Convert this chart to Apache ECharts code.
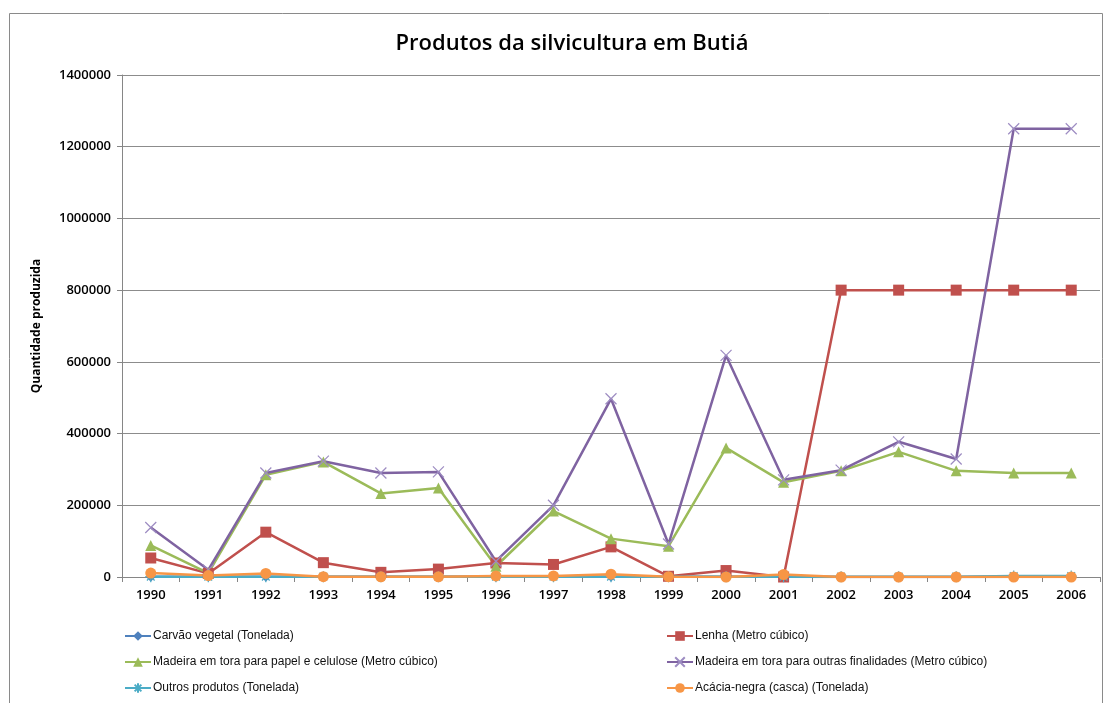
<!DOCTYPE html>
<html>
<head>
<meta charset="UTF-8">
<title>Produtos da silvicultura em Butiá</title>
<script src="https://cdn.jsdelivr.net/npm/echarts@6/dist/echarts.min.js"></script>
<style>
  html, body { margin: 0; padding: 0; background: #fff; }
  #main { width: 1113px; height: 703px; }
</style>
</head>
<body>
<div id="main"></div>
<script>
// anos
var anos = ['1990','1991','1992','1993','1994','1995','1996','1997','1998',
            '1999','2000','2001','2002','2003','2004','2005','2006'];

// valores
var carvao   = [500, 500, 500, 500, 500, 500, 1000, 1000, 500, 500, 500, 1000, 0, 0, 0, 1000, 1000];
var lenha    = [53000, 10000, 125000, 40000, 13000, 22000, 39000, 35000, 84000, 2000, 18000, 0,
                800000, 800000, 800000, 800000, 800000];
var papel    = [88000, 11000, 285000, 321000, 233000, 248000, 30000, 184000, 107000, 86000,
                360000, 264000, 296000, 349000, 296000, 290000, 290000];
var outras   = [138000, 20000, 290000, 323000, 290000, 293000, 44000, 200000, 497000, 92000,
                618000, 271000, 298000, 377000, 329000, 1250000, 1250000];
var outros   = [1000, 1000, 1000, 1000, 1000, 1000, 1000, 1000, 1000, 1000, 1000, 1000,
                1000, 1000, 1000, 2500, 2500];
var acacia   = [11000, 4000, 10000, 1000, 500, 500, 3000, 3000, 8000, 1000, 0, 7000,
                0, 0, 0, 0, 0];

var yTicks = [0, 200000, 400000, 600000, 800000, 1000000, 1200000, 1400000];

var nomes = ['Carvão vegetal (Tonelada)', 'Lenha (Metro cúbico)',
             'Madeira em tora para papel e celulose (Metro cúbico)',
             'Madeira em tora para outras finalidades (Metro cúbico)',
             'Outros produtos (Tonelada)', 'Acácia-negra (casca) (Tonelada)'];

var simboloX = 'path://M0,0L10,10M10,0L0,10';
var asterisco = 'path://M5,0L5,10M0,5L10,5M1.5,1.5L8.5,8.5M8.5,1.5L1.5,8.5';

function serie(nome, dados, cor, simbolo, tam, extra) {
    var s = {
        name: nome,
        type: 'line',
        data: dados,
        symbol: simbolo,
        symbolSize: tam,
        showAllSymbol: true,
        lineStyle: { color: cor, width: 2.5 },
        itemStyle: { color: cor, borderColor: cor, borderWidth: 0 },
        emphasis: { disabled: true },
        animation: false
    };
    if (extra) { s.itemStyle = extra; }
    return s;
}

var myChart = echarts.init(document.getElementById('main'));

var legendText = {
    fontFamily: '"Liberation Sans Narrow", "Liberation Sans", sans-serif',
    fontSize: 12,
    color: '#111',
    padding: [0, 0, 0, -3]
};

var option = {
    backgroundColor: '#fff',
    animation: false,
    title: {
        text: 'Produtos da silvicultura em Butiá',
        left: 567,
        textAlign: 'center',
        top: 28,
        textStyle: {
            fontFamily: '"Open Sans", sans-serif',
            fontSize: 22,
            fontWeight: 600,
            color: '#000'
        }
    },
    graphic: [{
        type: 'rect',
        shape: { x: 9.5, y: 13.5, width: 1093, height: 720 },
        style: { fill: 'none', stroke: '#8a8a8a', lineWidth: 1 },
        silent: true
    }],
    grid: { left: 122, right: 13, top: 75, bottom: 126 },
    legend: [{
        data: [nomes[0], nomes[2], nomes[4]],
        orient: 'vertical',
        left: 119,
        top: 625,
        itemGap: 14,
        itemWidth: 26,
        itemHeight: 12,
        textStyle: legendText
    }, {
        data: [nomes[1], nomes[3], nomes[5]],
        orient: 'vertical',
        left: 661,
        top: 625,
        itemGap: 14,
        itemWidth: 26,
        itemHeight: 12,
        textStyle: legendText
    }],
    xAxis: {
        type: 'category',
        data: anos,
        boundaryGap: true,
        axisLine: { lineStyle: { color: '#868686', width: 1 } },
        axisTick: { show: true, length: 5, lineStyle: { color: '#868686' } },
        axisLabel: {
            margin: 12,
            fontFamily: '"Open Sans", sans-serif',
            fontSize: 13,
            fontWeight: 600,
            color: '#000'
        }
    },
    yAxis: {
        type: 'value',
        min: yTicks[0],
        max: yTicks[yTicks.length - 1],
        interval: yTicks[1] - yTicks[0],
        name: 'Quantidade produzida',
        nameLocation: 'middle',
        nameGap: 79,
        nameTextStyle: {
            fontFamily: '"Open Sans", sans-serif',
            fontSize: 12,
            fontWeight: 'bold',
            color: '#000'
        },
        axisLine: { show: true, lineStyle: { color: '#868686', width: 1 } },
        axisTick: { show: true, length: 5, lineStyle: { color: '#868686' } },
        splitLine: { show: true, lineStyle: { color: '#8c8c8c', width: 1 } },
        axisLabel: {
            margin: 11,
            formatter: function (v) { return String(v); },
            fontFamily: '"Open Sans", sans-serif',
            fontSize: 13,
            fontWeight: 600,
            color: '#000'
        }
    },
    series: [
        serie(nomes[0], carvao, '#4F81BD', 'diamond', 10),
        serie(nomes[1], lenha, '#C0504D', 'rect', 11),
        serie(nomes[2], papel, '#9BBB59', 'triangle', 11),
        serie(nomes[3], outras, '#7F63A1', simboloX, 11,
              { color: '#9d8cc2', borderColor: '#9d8cc2', borderWidth: 1.2 }),
        serie(nomes[4], outros, '#4BACC6', asterisco, 11,
              { color: '#4BACC6', borderColor: '#4BACC6', borderWidth: 1.2 }),
        serie(nomes[5], acacia, '#F79646', 'circle', 11)
    ]
};

myChart.setOption(option);
</script>
</body>
</html>
